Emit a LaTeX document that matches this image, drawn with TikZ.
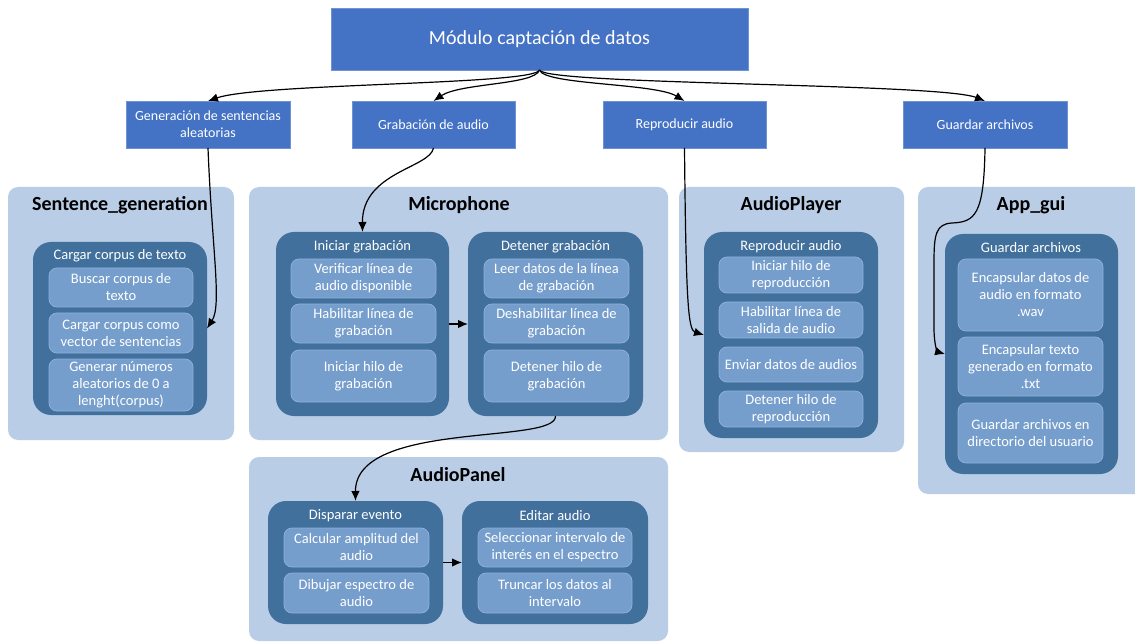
\documentclass[tikz,border=0pt]{standalone}
\usepackage{fontspec}
\setmainfont{Carlito}
\usetikzlibrary{arrows.meta}

\definecolor{topblue}{HTML}{4472C4}
\definecolor{topedge}{HTML}{6F93D3}
\definecolor{panelblue}{HTML}{BACDE6}
\definecolor{darkblue}{HTML}{41709C}
\definecolor{itemblue}{HTML}{769ECD}
\definecolor{itemedge}{HTML}{8FB1DA}

% box from its corners (x1,y1)-(x2,y2): style, name, corners, text
\newcommand\bx[7]{%
  \pgfmathsetmacro\bxw{#5-#3}%
  \pgfmathsetmacro\bxh{#6-#4}%
  \node[#1,minimum width=\bxw pt,minimum height=\bxh pt] (#2) at ({(#3+#5)/2},{(#4+#6)/2}) {#7};}

\begin{document}
\begin{tikzpicture}[x=1pt,y=-1pt,
  base/.style={inner sep=0pt,outer sep=0pt,align=center},
  topbox/.style={base,fill=topblue,draw=topedge,line width=0.6pt,text=white},
  panel/.style={base,fill=panelblue,rounded corners=10pt},
  group/.style={base,fill=darkblue,rounded corners=18pt},
  item/.style={base,fill=itemblue,draw=itemedge,line width=0.7pt,rounded corners=8pt,text=white,
    font=\fontsize{14.5}{17}\selectfont},
  grouptitle/.style={base,text=white,font=\fontsize{14.5}{17}\selectfont},
  paneltitle/.style={base,text=black,font=\fontsize{20}{24}\selectfont\bfseries},
  link/.style={-{Latex[length=10pt,width=8.5pt]},line width=1.2pt,black}]

\useasboundingbox (0,0) rectangle (1135,644);
\clip (0,0) rectangle (1135,644);

% main module and its four functions
\bx{topbox,font=\fontsize{20}{24}\selectfont}{top}{331}{8}{748}{70}{Módulo captación de datos}
\bx{topbox,font=\fontsize{14}{17}\selectfont}{gen}{126}{101}{290}{148}{Generación de sentencias\\aleatorias}
\bx{topbox,font=\fontsize{14}{17}\selectfont}{grab}{352}{101}{515}{148}{Grabación de audio}
\bx{topbox,font=\fontsize{14}{17}\selectfont}{repr}{603}{101}{766}{148}{Reproducir audio}
\bx{topbox,font=\fontsize{14}{17}\selectfont}{guard}{903}{101}{1067}{148}{Guardar archivos}

% class panels
\bx{panel}{sgpanel}{8}{187}{234}{440}{}
\bx{panel}{micpanel}{249}{187}{668}{440}{}
\bx{panel}{appanel}{679}{187}{904}{452}{}
\bx{panel}{agpanel}{918}{187}{1145}{494}{}
\bx{panel}{aupanel}{249}{457}{668}{641}{}

\node[paneltitle] (sgtitle) at (120,205) {Sentence\_generation};
\node[paneltitle] (mictitle) at (459,205) {Microphone};
\node[paneltitle] (aptitle) at (791,205) {AudioPlayer};
\node[paneltitle] (agtitle) at (1031,205) {App\_gui};
\node[paneltitle] (autitle) at (458,475) {AudioPanel};

% Sentence_generation
\bx{group}{sgdark}{33}{242}{207}{415}{}
\node[grouptitle] (sgdarkt) at (120,256) {Cargar corpus de texto};
\bx{item}{sg1}{49}{268}{193}{307}{Buscar corpus de\\texto}
\bx{item}{sg2}{49}{313}{193}{353}{Cargar corpus como\\vector de sentencias}
\bx{item}{sg3}{49}{359}{193}{411}{Generar números\\aleatorios de 0 a\\lenght(corpus)}

% Microphone
\bx{group}{ini}{276}{232}{449}{416}{}
\node[grouptitle] (init) at (362.5,247) {Iniciar grabación};
\bx{item}{ini1}{291}{259}{436}{298}{Verificar línea de\\audio disponible}
\bx{item}{ini2}{291}{304}{436}{343}{Habilitar línea de\\grabación}
\bx{item}{ini3}{291}{350}{436}{402}{Iniciar hilo de\\grabación}

\bx{group}{det}{468}{232}{643}{416}{}
\node[grouptitle] (dett) at (555.5,247) {Detener grabación};
\bx{item}{det1}{484}{259}{629}{298}{Leer datos de la línea\\de grabación}
\bx{item}{det2}{484}{304}{629}{343}{Deshabilitar línea de\\grabación}
\bx{item}{det3}{484}{350}{629}{402}{Detener hilo de\\grabación}

% AudioPlayer
\bx{group}{apdark}{704}{232}{878}{438}{}
\node[grouptitle] (apdarkt) at (791,247) {Reproducir audio};
\bx{item}{ap1}{719}{257}{863}{293}{Iniciar hilo de\\reproducción}
\bx{item}{ap2}{719}{302}{863}{338}{Habilitar línea de\\salida de audio}
\bx{item}{ap3}{719}{347}{863}{382}{Enviar datos de audios}
\bx{item}{ap4}{719}{391}{863}{427}{Detener hilo de\\reproducción}

% App_gui
\bx{group}{agdark}{945}{234}{1118}{474}{}
\node[grouptitle] (agdarkt) at (1031,248) {Guardar archivos};
\bx{item}{ag1}{958}{259}{1103}{331}{Encapsular datos de\\audio en formato\\.wav}
\bx{item}{ag2}{958}{337}{1103}{396}{Encapsular texto\\generado en formato\\.txt}
\bx{item}{ag3}{958}{403}{1103}{463}{Guardar archivos en\\directorio del usuario}

% AudioPanel
\bx{group}{disp}{268}{501}{443}{624}{}
\node[grouptitle] (dispt) at (355.5,516) {Disparar evento};
\bx{item}{disp1}{284}{528}{429}{567}{Calcular amplitud del\\audio}
\bx{item}{disp2}{284}{573}{429}{613}{Dibujar espectro de\\audio}

\bx{group}{edit}{462}{501}{648}{624}{}
\node[grouptitle] (editt) at (555,516) {Editar audio};
\bx{item}{edit1}{478}{528}{632}{567}{Seleccionar intervalo de\\interés en el espectro}
\bx{item}{edit2}{478}{573}{632}{613}{Truncar los datos al\\intervalo}

% connectors from the main module
\draw[link] (top.south) .. controls (535,85) and (260,83) .. (gen.north);
\draw[link] (top.south) .. controls (535,85) and (460,83) .. (grab.north);
\draw[link] (top.south) .. controls (544,85) and (655,83) .. (repr.north);
\draw[link] (top.south) .. controls (544,85) and (940,83) .. (guard.north);

% connectors into the classes
\draw[link] (gen.south) .. controls (212,250) and (222,305) .. (sgdark.east);
\draw[link] (grab.south) .. controls (430,168) and (362,172) .. (ini.north);
\draw[link] (repr.south) .. controls (686,300) and (688,330) .. (apdark.west);
\draw[link] (guard.south) .. controls (984,215) and (975,222) .. (952,223)
  .. controls (936,224) and (934,234) .. (934,262) -- (934,328)
  .. controls (934,346) and (938,352) .. (agdark.west);
\draw[link] (ini.east) -- (det.west);
\draw[link] (det.south) .. controls (557,445) and (355,420) .. (disp.north);
\draw[link] (disp.east) -- (edit.west);

\end{tikzpicture}
\end{document}
